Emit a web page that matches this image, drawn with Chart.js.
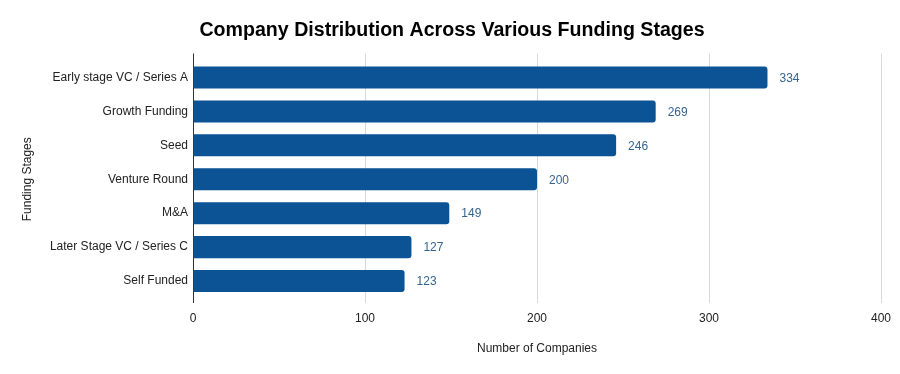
<!DOCTYPE html>
<html>
<head>
<meta charset="utf-8">
<script src="https://cdn.jsdelivr.net/npm/chart.js@4/dist/chart.umd.min.js"></script>
<style>
html,body{margin:0;padding:0;background:#fff;}
#wrap{width:900px;height:374px;}
</style>
</head>
<body>
<div id="wrap"><canvas id="c" width="900" height="374"></canvas></div>
<script>
const chartTitle = 'Company Distribution Across Various Funding Stages';
const categories = ['Early stage VC / Series A','Growth Funding','Seed','Venture Round','M&A','Later Stage VC / Series C','Self Funded'];
const companyCounts = [334, 269, 246, 200, 149, 127, 123];
const xTicks = [0, 100, 200, 300, 400];
const xAxisTitle = 'Number of Companies';
const yAxisTitle = 'Funding Stages';

const FONT = "'Liberation Sans', Arial, sans-serif";
const GRID = '#d9d9d9';

const extendLines = {
  id: 'extendLines',
  beforeDatasetsDraw(chart) {
    const {ctx, chartArea, scales} = chart;
    ctx.save();
    ctx.lineWidth = 1;
    ctx.strokeStyle = GRID;
    xTicks.forEach(v => {
      const x = Math.round(scales.x.getPixelForValue(v)) + 0.5;
      ctx.beginPath();
      ctx.moveTo(x, chartArea.top - 7);
      ctx.lineTo(x, chartArea.top);
      ctx.stroke();
    });
    const x0 = Math.round(scales.x.getPixelForValue(0)) + 0.5;
    ctx.strokeStyle = '#333';
    ctx.beginPath();
    ctx.moveTo(x0, chartArea.top - 7);
    ctx.lineTo(x0, chartArea.bottom + 5);
    ctx.stroke();
    ctx.restore();
  }
};

const valueLabels = {
  id: 'valueLabels',
  afterDatasetsDraw(chart) {
    const {ctx} = chart;
    const meta = chart.getDatasetMeta(0);
    ctx.save();
    ctx.fillStyle = '#35648f';
    ctx.font = '12px ' + FONT;
    ctx.textAlign = 'left';
    ctx.textBaseline = 'middle';
    meta.data.forEach((bar, i) => {
      ctx.fillText(String(companyCounts[i]), bar.x + 12, bar.y + 1);
    });
    ctx.restore();
  }
};

new Chart(document.getElementById('c'), {
  type: 'bar',
  data: {
    labels: categories,
    datasets: [{
      data: companyCounts,
      backgroundColor: '#0b5394',
      borderRadius: 3,
      borderSkipped: 'start',
      barPercentage: 0.65,
      categoryPercentage: 1.0
    }]
  },
  options: {
    indexAxis: 'y',
    responsive: false,
    animation: false,
    devicePixelRatio: 1,
    layout: { padding: { top: 0, left: 23, right: 19, bottom: 10 } },
    plugins: {
      legend: { display: false },
      tooltip: { enabled: false },
      title: {
        display: true,
        text: chartTitle,
        color: '#000',
        font: { family: FONT, size: 19.6, weight: 'bold' },
        padding: { top: 19, bottom: 18 }
      }
    },
    scales: {
      x: {
        type: 'linear',
        min: 0,
        max: 400,
        afterFit(scale) { scale.height = 66; },
        afterBuildTicks(scale) { scale.ticks = xTicks.map(v => ({value: v})); },
        grid: { color: GRID, tickLength: 5, drawTicks: true },
        border: { display: false },
        ticks: { color: '#222', font: { family: FONT, size: 12 }, padding: 8 },
        title: {
          display: true,
          text: xAxisTitle,
          color: '#222',
          font: { family: FONT, size: 12 },
          padding: { top: 0, bottom: 8 }
        }
      },
      y: {
        afterFit(scale) { scale.width = 170; },
        grid: { display: false, drawTicks: false },
        border: { display: true, color: '#333', width: 1 },
        ticks: { color: '#222', font: { family: FONT, size: 12 }, padding: 5 },
        title: {
          display: true,
          text: yAxisTitle,
          color: '#222',
          font: { family: FONT, size: 12 },
          padding: { top: -3, bottom: 0 }
        }
      }
    }
  },
  plugins: [extendLines, valueLabels]
});
</script>
</body>
</html>
